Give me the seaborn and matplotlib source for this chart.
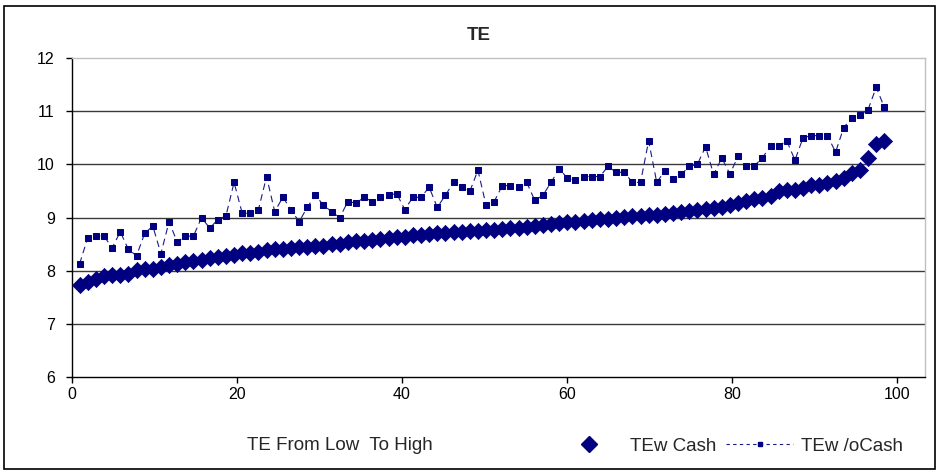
import numpy as np
import pandas as pd
import matplotlib
matplotlib.use("Agg")
import matplotlib.pyplot as plt
from matplotlib.lines import Line2D
from matplotlib.patches import Rectangle
import seaborn as sns

# ---- data ----
rank = list(range(1, 101))

te_w_cash = [
    7.73, 7.79, 7.84, 7.90, 7.92, 7.92, 7.93, 8.01, 8.03, 8.04,
    8.06, 8.10, 8.13, 8.16, 8.19, 8.21, 8.23, 8.25, 8.27, 8.30,
    8.33, 8.34, 8.36, 8.38, 8.40, 8.41, 8.42, 8.44, 8.45, 8.46,
    8.47, 8.50, 8.51, 8.53, 8.55, 8.56, 8.58, 8.60, 8.61, 8.63,
    8.64, 8.67, 8.68, 8.69, 8.70, 8.71, 8.72, 8.73, 8.74, 8.75,
    8.76, 8.77, 8.78, 8.80, 8.81, 8.83, 8.84, 8.86, 8.88, 8.89,
    8.91, 8.92, 8.93, 8.95, 8.97, 8.98, 9.00, 9.01, 9.02, 9.03,
    9.04, 9.05, 9.07, 9.08, 9.10, 9.12, 9.14, 9.16, 9.18, 9.20,
    9.23, 9.27, 9.31, 9.35, 9.37, 9.40, 9.49, 9.51, 9.52, 9.56,
    9.62, 9.62, 9.65, 9.68, 9.74, 9.83, 9.90, 10.12, 10.38, 10.43,
]

te_wo_cash = [
    8.13, 8.62, 8.65, 8.65, 8.43, 8.73, 8.40, 8.28, 8.70, 8.84,
    8.32, 8.92, 8.54, 8.65, 8.65, 9.00, 8.80, 8.96, 9.03, 9.66,
    9.08, 9.08, 9.15, 9.77, 9.11, 9.38, 9.15, 8.92, 9.19, 9.42,
    9.23, 9.11, 9.00, 9.30, 9.27, 9.38, 9.30, 9.38, 9.42, 9.45,
    9.15, 9.38, 9.38, 9.57, 9.19, 9.42, 9.66, 9.57, 9.49, 9.89,
    9.23, 9.30, 9.60, 9.60, 9.57, 9.66, 9.32, 9.42, 9.66, 9.92,
    9.74, 9.70, 9.77, 9.77, 9.77, 9.96, 9.85, 9.85, 9.66, 9.66,
    10.44, 9.66, 9.88, 9.73, 9.81, 9.96, 10.00, 10.33, 9.81, 10.12,
    9.82, 10.15, 9.97, 9.97, 10.12, 10.35, 10.35, 10.44, 10.08, 10.50,
    10.54, 10.54, 10.54, 10.23, 10.69, 10.88, 10.92, 11.03, 11.45, 11.07,
]

x_ticks = [0, 20, 40, 60, 80, 100]
y_ticks = [6, 7, 8, 9, 10, 11, 12]

title = "TE"
x_label = "TE From Low  To High"
label_w = "TEw Cash"
label_wo = "TEw /oCash"

# ---- styling ----
sns.set_style("white")
plt.rcParams["font.family"] = ["Liberation Sans", "DejaVu Sans"]

navy = "#000080"
df = pd.DataFrame({"rank": rank, "w": te_w_cash, "wo": te_wo_cash})

fig = plt.figure(figsize=(9.39, 4.72), dpi=100)
ax = fig.add_axes([71.5 / 939, 1 - 377 / 472, (925 - 71.5) / 939, (377 - 58) / 472])

sns.lineplot(data=df, x="rank", y="wo", ax=ax, color="#1a1a8c", lw=0.8,
             linestyle=(0, (6, 4)), marker="s", markersize=5,
             markeredgecolor=navy, markerfacecolor=navy, zorder=3)
sns.scatterplot(data=df, x="rank", y="w", ax=ax, color=navy, marker="D",
                s=68, edgecolor=navy, linewidth=0.5, zorder=4)

# the reference's tick marks are spread slightly wider than its points
tick_stretch = 1.016
ax.set_xlim(0, 105)
ax.set_ylim(6, 12)
ax.set_xticks([t * tick_stretch for t in x_ticks])
ax.set_xticklabels([str(t) for t in x_ticks])
ax.set_yticks(y_ticks)
ax.set_xlabel("")
ax.set_ylabel("")
for yv in y_ticks[1:-1]:
    ax.axhline(yv, color="#3a3a3a", lw=1.0, zorder=1)

for s in ["top", "right"]:
    ax.spines[s].set_color("#c0c0c0")
    ax.spines[s].set_linewidth(1.0)
for s in ["left", "bottom"]:
    ax.spines[s].set_color("#000000")
    ax.spines[s].set_linewidth(1.0)

ax.tick_params(axis="both", which="major", labelsize=11.5, colors="#000000",
               direction="out", length=4, width=1)
ax.tick_params(axis="y", pad=8)
ax.tick_params(axis="x", pad=3)
ax.tick_params(left=True, bottom=True)

fig.text(479 / 939, 1 - 35 / 472, title, ha="center", va="center",
         fontsize=13.5, fontweight="bold")
fig.text(340 / 939, 1 - 446 / 472, x_label, ha="center", va="center", fontsize=13.5)

handles = [
    Line2D([], [], color=navy, marker="D", linestyle="none", markersize=8),
    Line2D([], [], color="#1a1a8c", marker="s", linestyle=(0, (3, 3)), lw=0.8,
           markersize=3.5, markerfacecolor=navy, markeredgecolor=navy),
]
fig.legend(handles, [label_w, label_wo], loc="center", ncol=2,
           bbox_to_anchor=(729 / 939, 1 - 446 / 472), frameon=False,
           fontsize=13.5, handlelength=3.6, columnspacing=0.5, handletextpad=0.4,
           borderpad=0.1)

fig.patches.append(Rectangle((4 / 939, 3 / 472), 931 / 939, 463 / 472,
                             transform=fig.transFigure, fill=False,
                             edgecolor="#000000", lw=1.2))

fig.savefig("out.png", dpi=100)
